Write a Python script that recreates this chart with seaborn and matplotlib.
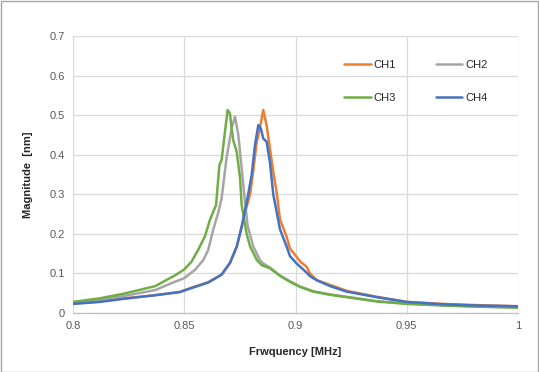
import matplotlib
matplotlib.use("Agg")
import matplotlib.pyplot as plt
import seaborn as sns
import pandas as pd
from matplotlib.patches import Rectangle

# ---- data ----
ch1_f = [0.800, 0.812, 0.823, 0.837, 0.848, 0.8533, 0.8608, 0.8668, 0.8706, 0.8736, 0.8758, 0.8781,
         0.8796, 0.881, 0.8826, 0.884, 0.8855, 0.887, 0.8885, 0.890, 0.8915, 0.893, 0.896, 0.8975,
         0.9005, 0.9021, 0.905, 0.9065, 0.9095, 0.9155, 0.923, 0.9365, 0.95, 0.966, 0.981, 1.0]
ch1_m = [0.024, 0.029, 0.037, 0.045, 0.053, 0.064, 0.078, 0.097, 0.127, 0.168, 0.218, 0.270,
         0.300, 0.360, 0.433, 0.467, 0.513, 0.475, 0.416, 0.357, 0.306, 0.237, 0.193, 0.163,
         0.142, 0.130, 0.117, 0.100, 0.083, 0.071, 0.056, 0.041, 0.028, 0.023, 0.020, 0.017]

ch2_f = [0.800, 0.812, 0.823, 0.837, 0.8458, 0.850, 0.8548, 0.8586, 0.8608, 0.863, 0.8653, 0.8668,
         0.869, 0.8713, 0.8728, 0.8743, 0.8758, 0.8773, 0.8785, 0.881, 0.884, 0.8855, 0.8885, 0.893,
         0.8975, 0.902, 0.908, 0.9155, 0.923, 0.9365, 0.95, 0.966, 0.981, 1.0]
ch2_m = [0.027, 0.034, 0.043, 0.058, 0.079, 0.088, 0.109, 0.134, 0.160, 0.210, 0.254, 0.290,
         0.391, 0.467, 0.496, 0.450, 0.366, 0.280, 0.220, 0.168, 0.134, 0.125, 0.115, 0.095,
         0.080, 0.067, 0.055, 0.047, 0.041, 0.030, 0.024, 0.020, 0.017, 0.014]

ch3_f = [0.800, 0.812, 0.823, 0.837, 0.8458, 0.850, 0.8533, 0.8563, 0.8593, 0.8616, 0.8643, 0.8658,
         0.8668, 0.8683, 0.8695, 0.8705, 0.8713, 0.872, 0.8736, 0.8751, 0.8758, 0.878, 0.8796,
         0.8826, 0.8848, 0.8885, 0.893, 0.8975, 0.902, 0.908, 0.9155, 0.923, 0.9365, 0.95, 0.966,
         0.981, 1.0]
ch3_m = [0.028, 0.037, 0.049, 0.068, 0.095, 0.110, 0.130, 0.160, 0.194, 0.236, 0.273, 0.374,
         0.387, 0.458, 0.513, 0.505, 0.467, 0.437, 0.407, 0.340, 0.273, 0.201, 0.168,
         0.134, 0.121, 0.113, 0.094, 0.079, 0.066, 0.054, 0.046, 0.040, 0.029, 0.023, 0.019,
         0.016, 0.0135]

ch4_f = [0.800, 0.812, 0.823, 0.837, 0.848, 0.8533, 0.8608, 0.8668, 0.8706, 0.8736, 0.8758, 0.8781,
         0.8803, 0.8818, 0.8833, 0.8845, 0.8855, 0.887, 0.8885, 0.890, 0.893, 0.896, 0.8975, 0.9005,
         0.9021, 0.905, 0.9065, 0.9095, 0.9155, 0.923, 0.9365, 0.95, 0.966, 0.981, 1.0]
ch4_m = [0.023, 0.028, 0.036, 0.045, 0.053, 0.063, 0.077, 0.097, 0.127, 0.168, 0.218, 0.280,
         0.349, 0.425, 0.475, 0.465, 0.441, 0.433, 0.382, 0.300, 0.212, 0.168, 0.144, 0.125,
         0.117, 0.102, 0.093, 0.083, 0.068, 0.054, 0.040, 0.028, 0.022, 0.019, 0.017]

channels = ["CH1", "CH2", "CH3", "CH4"]
colors = {"CH1": "#ED7D31", "CH2": "#A5A5A5", "CH3": "#70AD47", "CH4": "#4472C4"}
x_ticks = [0.8, 0.85, 0.9, 0.95, 1.0]
x_tick_labels = ["0.8", "0.85", "0.9", "0.95", "1"]
y_ticks = [0, 0.1, 0.2, 0.3, 0.4, 0.5, 0.6, 0.7]
y_tick_labels = ["0", "0.1", "0.2", "0.3", "0.4", "0.5", "0.6", "0.7"]

frames = []
for name, f, m in [("CH1", ch1_f, ch1_m), ("CH2", ch2_f, ch2_m),
                   ("CH3", ch3_f, ch3_m), ("CH4", ch4_f, ch4_m)]:
    frames.append(pd.DataFrame({"freq": f, "mag": m, "channel": name}))
df = pd.concat(frames, ignore_index=True)

sns.set_theme(style="white")
plt.rcParams["font.family"] = ["Liberation Sans", "DejaVu Sans"]

fig = plt.figure(figsize=(5.39, 3.72), dpi=100)
ax = fig.add_axes([73 / 539, 1 - 313 / 372, (518 - 73) / 539, (313 - 36) / 372])

sns.lineplot(data=df, x="freq", y="mag", hue="channel", hue_order=channels,
             palette=colors, estimator=None, sort=False, linewidth=1.8, ax=ax)

ax.set_xlim(0.8, 1.0)
ax.set_ylim(0, 0.7)
ax.set_xticks(x_ticks)
ax.set_xticklabels(x_tick_labels)
ax.set_yticks(y_ticks)
ax.set_yticklabels(y_tick_labels)
ax.tick_params(axis="both", length=0, labelsize=8, labelcolor="#595959", pad=6)
ax.grid(True, color="#D9D9D9", linewidth=0.9)
ax.set_axisbelow(True)
for s in ["top", "right", "left"]:
    ax.spines[s].set_visible(False)
ax.spines["bottom"].set_color("#BFBFBF")
ax.spines["bottom"].set_linewidth(0.9)

ax.set_xlabel("Frwquency [MHz]", fontsize=8, fontweight="bold", color="#262626", labelpad=11)
ax.set_ylabel("Magnitude  [nm]", fontsize=8, fontweight="bold", color="#262626", labelpad=12)

handles, labels = ax.get_legend_handles_labels()
hmap = dict(zip(labels, handles))
order = ["CH1", "CH3", "CH2", "CH4"]  # column-major fill -> rows CH1 CH2 / CH3 CH4
ax.legend([hmap[k] for k in order], order, ncol=2, loc="upper left",
          bbox_to_anchor=(344 / 539, 1 - 60 / 372), bbox_transform=fig.transFigure,
          frameon=False, fontsize=8, handlelength=2.4, handletextpad=0.25,
          columnspacing=3.6, labelspacing=2.1, borderpad=0, borderaxespad=0)

fig.patches.append(Rectangle((0.5 / 539, 0.5 / 372), 1 - 1.5 / 539, 1 - 1.5 / 372,
                             transform=fig.transFigure, fill=False,
                             edgecolor="#A6A6A6", linewidth=1.0))

fig.savefig("out.png", dpi=100, facecolor="white")
